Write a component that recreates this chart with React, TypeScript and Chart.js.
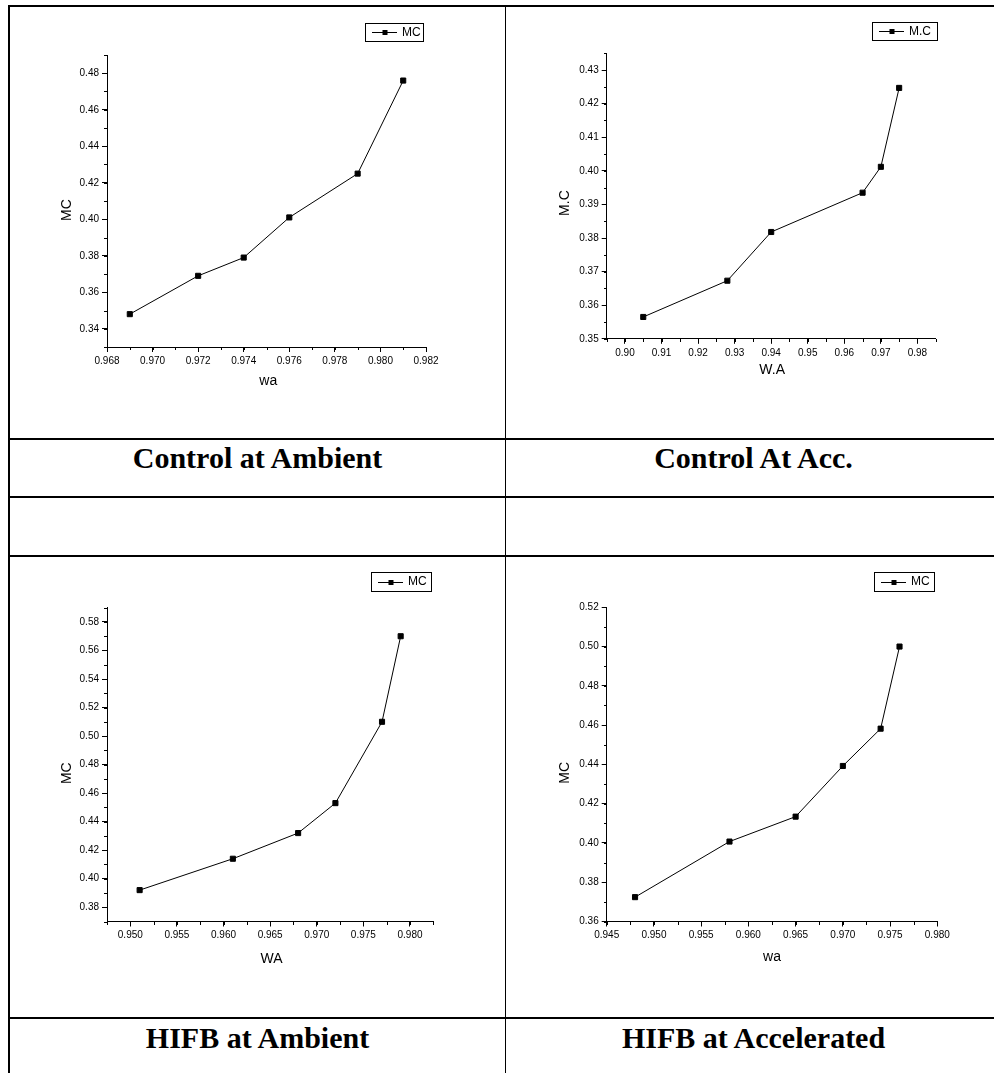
import React, { useEffect, useRef } from "react";
import { Chart, registerables } from "chart.js";

Chart.register(...registerables);

const SANS = "'Liberation Sans', Arial, Helvetica, sans-serif";
const SERIF = "'Liberation Serif', 'Times New Roman', Times, serif";

// ---- Chart 1: Control at Ambient ----
const wa1 = [0.969, 0.972, 0.974, 0.976, 0.979, 0.981];
const mc1 = [0.348, 0.369, 0.379, 0.401, 0.425, 0.476];
const xTicks1 = ["0.968", "0.970", "0.972", "0.974", "0.976", "0.978", "0.980", "0.982"];
const yTicks1 = ["0.34", "0.36", "0.38", "0.40", "0.42", "0.44", "0.46", "0.48"];

// ---- Chart 2: Control At Acc. ----
const wa2 = [0.905, 0.928, 0.94, 0.965, 0.97, 0.975];
const mc2 = [0.3565, 0.3673, 0.3818, 0.3935, 0.4012, 0.4247];
const xTicks2 = ["0.90", "0.91", "0.92", "0.93", "0.94", "0.95", "0.96", "0.97", "0.98"];
const yTicks2 = ["0.35", "0.36", "0.37", "0.38", "0.39", "0.40", "0.41", "0.42", "0.43"];

// ---- Chart 3: HIFB at Ambient ----
const wa3 = [0.951, 0.961, 0.968, 0.972, 0.977, 0.979];
const mc3 = [0.392, 0.414, 0.432, 0.453, 0.51, 0.57];
const xTicks3 = ["0.950", "0.955", "0.960", "0.965", "0.970", "0.975", "0.980"];
const yTicks3 = ["0.38", "0.40", "0.42", "0.44", "0.46", "0.48", "0.50", "0.52", "0.54", "0.56", "0.58"];

// ---- Chart 4: HIFB at Accelerated ----
const wa4 = [0.948, 0.958, 0.965, 0.97, 0.974, 0.976];
const mc4 = [0.3724, 0.4007, 0.4134, 0.4392, 0.4582, 0.5];
const xTicks4 = ["0.945", "0.950", "0.955", "0.960", "0.965", "0.970", "0.975", "0.980"];
const yTicks4 = ["0.36", "0.38", "0.40", "0.42", "0.44", "0.46", "0.48", "0.50", "0.52"];

const captions = ["Control at Ambient", "Control At Acc.", "HIFB at Ambient", "HIFB at Accelerated"];

type Box = { left: number; top: number; width: number; height: number };
type Area = { L: number; T: number; R: number; B: number };
type PanelCfg = {
  xs: number[];
  ys: number[];
  xTicks: string[];
  yTicks: string[];
  xMin: number;
  xMax: number;
  xMinor: number;
  yMin: number;
  yMax: number;
  yMinor: number;
  xTitle: string;
  yTitle: string;
  legendText: string;
  canvas: Box;
  area: Area;
  legend: { x: number; y: number; w: number; h: number };
  yT: [number, number];
  xT: [number, number];
};

const panels: PanelCfg[] = [
  {
    xs: wa1, ys: mc1, xTicks: xTicks1, yTicks: yTicks1,
    xMin: 0.968, xMax: 0.982, xMinor: 0.001,
    yMin: 0.33, yMax: 0.49, yMinor: 0.01,
    xTitle: "wa", yTitle: "MC", legendText: "MC",
    canvas: { left: 10, top: 7, width: 495, height: 431 },
    area: { L: 97, T: 48, R: 416, B: 340 },
    legend: { x: 355, y: 16, w: 58, h: 18 },
    yT: [-40, 9], xT: [1.8, 34],
  },
  {
    xs: wa2, ys: mc2, xTicks: xTicks2, yTicks: yTicks2,
    xMin: 0.895, xMax: 0.985, xMinor: 0.005,
    yMin: 0.35, yMax: 0.435, yMinor: 0.005,
    xTitle: "W.A", yTitle: "M.C", legendText: "M.C",
    canvas: { left: 506, top: 7, width: 488, height: 431 },
    area: { L: 100.7, T: 46.3, R: 429.7, B: 331.8 },
    legend: { x: 366, y: 15, w: 65, h: 18 },
    yT: [-41.4, 7], xT: [1, 31],
  },
  {
    xs: wa3, ys: mc3, xTicks: xTicks3, yTicks: yTicks3,
    xMin: 0.9475, xMax: 0.9825, xMinor: 0.0025,
    yMin: 0.37, yMax: 0.59, yMinor: 0.01,
    xTitle: "WA", yTitle: "MC", legendText: "MC",
    canvas: { left: 10, top: 557, width: 495, height: 460 },
    area: { L: 97, T: 50.7, R: 423.3, B: 364.5 },
    legend: { x: 361, y: 15, w: 60, h: 19 },
    yT: [-40, 8.6], xT: [1.4, 37.5],
  },
  {
    xs: wa4, ys: mc4, xTicks: xTicks4, yTicks: yTicks4,
    xMin: 0.945, xMax: 0.98, xMinor: 0.0025,
    yMin: 0.36, yMax: 0.52, yMinor: 0.01,
    xTitle: "wa", yTitle: "MC", legendText: "MC",
    canvas: { left: 506, top: 557, width: 488, height: 460 },
    area: { L: 100.7, T: 50.3, R: 431.3, B: 364.5 },
    legend: { x: 368, y: 15, w: 60, h: 19 },
    yT: [-41.4, 8.5], xT: [0, 36],
  },
];

const Y_W = 60;
const X_H = 50;

function ChartPanel({ cfg }: { cfg: PanelCfg }) {
  const ref = useRef<HTMLCanvasElement | null>(null);

  useEffect(() => {
    const canvas = ref.current;
    if (!canvas) return;

    const decor = {
      id: "decor",
      afterDraw(chart: any) {
        const ctx = chart.ctx as CanvasRenderingContext2D;
        const xs = chart.scales.x;
        const ys = chart.scales.y;
        const a = chart.chartArea;
        ctx.save();
        ctx.strokeStyle = "#000";
        ctx.fillStyle = "#000";
        ctx.lineWidth = 1;
        // minor ticks
        ctx.beginPath();
        const nx = Math.round((cfg.xMax - cfg.xMin) / cfg.xMinor);
        for (let i = 0; i <= nx; i++) {
          const px = Math.round(xs.getPixelForValue(cfg.xMin + i * cfg.xMinor)) + 0.5;
          ctx.moveTo(px, Math.round(a.bottom));
          ctx.lineTo(px, Math.round(a.bottom) + 3);
        }
        const ny = Math.round((cfg.yMax - cfg.yMin) / cfg.yMinor);
        for (let i = 0; i <= ny; i++) {
          const py = Math.round(ys.getPixelForValue(cfg.yMin + i * cfg.yMinor)) + 0.5;
          ctx.moveTo(Math.round(a.left) - 3, py);
          ctx.lineTo(Math.round(a.left), py);
        }
        ctx.stroke();

        // axis titles
        ctx.font = `14px ${SANS}`;
        ctx.textAlign = "center";
        ctx.textBaseline = "middle";
        ctx.fillText(cfg.xTitle, (a.left + a.right) / 2 + cfg.xT[0], a.bottom + cfg.xT[1]);
        ctx.save();
        ctx.translate(a.left + cfg.yT[0], (a.top + a.bottom) / 2 + cfg.yT[1]);
        ctx.rotate(-Math.PI / 2);
        ctx.fillText(cfg.yTitle, 0, 0);
        ctx.restore();

        // legend
        const lg = cfg.legend;
        ctx.strokeRect(lg.x + 0.5, lg.y + 0.5, lg.w, lg.h);
        const cy = Math.round(lg.y + lg.h / 2) + 0.5;
        ctx.beginPath();
        ctx.moveTo(lg.x + 7, cy);
        ctx.lineTo(lg.x + 32, cy);
        ctx.stroke();
        ctx.fillRect(lg.x + 20 - 2.5, cy - 2.5, 5, 5);
        ctx.font = `12px ${SANS}`;
        ctx.textAlign = "left";
        ctx.textBaseline = "middle";
        ctx.fillText(cfg.legendText, lg.x + 37, lg.y + lg.h / 2 + 0.5);
        ctx.restore();
      },
    };

    const chart = new Chart(canvas, {
      type: "line",
      data: {
        datasets: [
          {
            label: cfg.legendText,
            data: cfg.xs.map((x, i) => ({ x, y: cfg.ys[i] })),
            borderColor: "#000",
            borderWidth: 1,
            backgroundColor: "#000",
            pointStyle: "rect",
            pointRadius: 3.6,
            pointBorderWidth: 1,
            pointBackgroundColor: "#000",
            pointBorderColor: "#000",
            tension: 0,
            fill: false,
          },
        ],
      },
      options: {
        responsive: false,
        animation: false,
        events: [],
        layout: {
          padding: {
            left: cfg.area.L - Y_W,
            top: cfg.area.T,
            right: cfg.canvas.width - cfg.area.R,
            bottom: cfg.canvas.height - cfg.area.B - X_H,
          },
        },
        plugins: { legend: { display: false }, tooltip: { enabled: false }, title: { display: false } },
        scales: {
          x: {
            type: "linear",
            position: "bottom",
            min: cfg.xMin,
            max: cfg.xMax,
            afterBuildTicks: (s: any) => {
              s.ticks = cfg.xTicks.map((t) => ({ value: parseFloat(t) }));
            },
            afterFit: (s: any) => {
              s.height = X_H;
            },
            ticks: {
              autoSkip: false,
              maxRotation: 0,
              minRotation: 0,
              padding: 3,
              color: "#000",
              font: { family: SANS, size: 10 },
              callback: (_v: any, i: number) => cfg.xTicks[i],
            },
            grid: {
              display: true,
              drawOnChartArea: false,
              drawTicks: true,
              tickLength: 5,
              color: "#000",
              lineWidth: 1,
            },
            border: { display: true, color: "#000", width: 1 },
          },
          y: {
            type: "linear",
            position: "left",
            min: cfg.yMin,
            max: cfg.yMax,
            afterBuildTicks: (s: any) => {
              s.ticks = cfg.yTicks.map((t) => ({ value: parseFloat(t) }));
            },
            afterFit: (s: any) => {
              s.width = Y_W;
            },
            ticks: {
              autoSkip: false,
              padding: 3,
              color: "#000",
              font: { family: SANS, size: 10 },
              callback: (_v: any, i: number) => cfg.yTicks[i],
            },
            grid: {
              display: true,
              drawOnChartArea: false,
              drawTicks: true,
              tickLength: 5,
              color: "#000",
              lineWidth: 1,
            },
            border: { display: true, color: "#000", width: 1 },
          },
        },
      },
      plugins: [decor],
    } as any);

    return () => chart.destroy();
  }, [cfg]);

  return (
    <canvas
      ref={ref}
      width={cfg.canvas.width}
      height={cfg.canvas.height}
      style={{
        position: "absolute",
        left: cfg.canvas.left,
        top: cfg.canvas.top,
        width: cfg.canvas.width,
        height: cfg.canvas.height,
        display: "block",
      }}
    />
  );
}

const hLines = [5, 438, 496, 555, 1017];

export default function App() {
  const capStyle = (left: number, top: number): React.CSSProperties => ({
    position: "absolute",
    left,
    top,
    width: 495,
    textAlign: "center",
    fontFamily: SERIF,
    fontWeight: "bold",
    fontSize: 30,
    lineHeight: "30px",
    whiteSpace: "nowrap",
    color: "#000",
  });

  return (
    <div
      style={{
        position: "absolute",
        left: 0,
        top: 0,
        width: 994,
        height: 1073,
        overflow: "hidden",
        background: "#fff",
      }}
    >
      {panels.map((p, i) => (
        <ChartPanel key={i} cfg={p} />
      ))}
      {hLines.map((y, i) => (
        <div
          key={"h" + i}
          style={{ position: "absolute", left: 8, top: y, width: 994, height: 2, background: "#000" }}
        />
      ))}
      <div style={{ position: "absolute", left: 8, top: 5, width: 2, height: 1073, background: "#000" }} />
      <div style={{ position: "absolute", left: 505, top: 5, width: 1, height: 1073, background: "#000" }} />
      <div style={capStyle(10, 442.6)}>{captions[0]}</div>
      <div style={capStyle(506, 442.6)}>{captions[1]}</div>
      <div style={capStyle(10, 1022.6)}>{captions[2]}</div>
      <div style={capStyle(506, 1022.6)}>{captions[3]}</div>
    </div>
  );
}
